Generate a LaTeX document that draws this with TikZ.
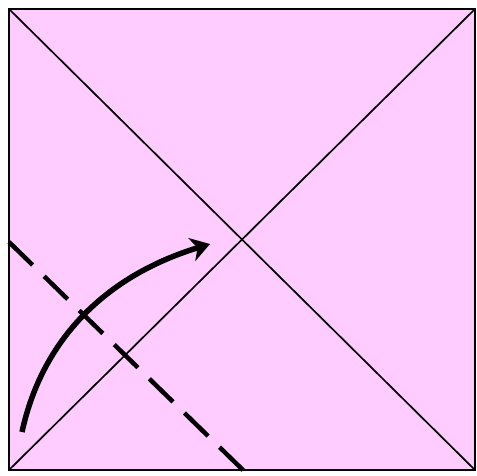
\documentclass[tikz,border=0pt]{standalone}
\usetikzlibrary{arrows.meta}
\definecolor{paper}{RGB}{255,204,255}
\tikzset{
  sheet/.style={draw=black, fill=paper, line width=2.4pt},
  crease/.style={draw=black, line width=1.7pt},
  foldline/.style={draw=black, line width=4.5pt, dash pattern=on 33pt off 16pt},
  motion/.style={draw=black, line width=5.5pt, -{Stealth[length=19pt,width=24pt,inset=6pt]}}
}
\begin{document}
\begin{tikzpicture}[x=1pt,y=-1pt]
\useasboundingbox (0,0) rectangle (477,475);
\coordinate (tl) at (9,9);
\coordinate (tr) at (475,9);
\coordinate (br) at (475,470);
\coordinate (bl) at (9,470);
\coordinate (dstart) at (9,242);
\coordinate (dend) at (245,472);
\coordinate (astart) at (22,432);
\coordinate (aend) at (210,244);
\path[sheet] (tl) rectangle (br);
\draw[crease] (tl) -- (br);
\draw[crease] (tr) -- (bl);
\draw[foldline] (dstart) -- (dend);
\draw[motion] (astart) .. controls (42,340) and (105,276) .. (aend);
\end{tikzpicture}
\end{document}
